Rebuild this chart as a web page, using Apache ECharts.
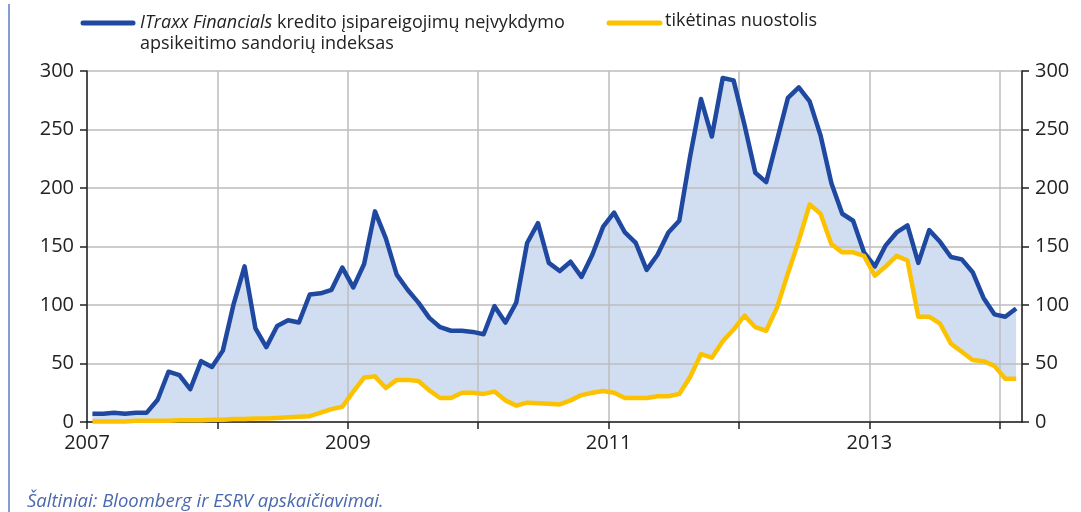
<!DOCTYPE html>
<html>
<head>
<meta charset="utf-8">
<script src="https://cdn.jsdelivr.net/npm/echarts@6/dist/echarts.min.js"></script>
<style>
  html, body { margin: 0; padding: 0; background: #fff; }
  #main_echarts { width: 1081px; height: 512px; }
</style>
</head>
<body>
<div id="main_echarts"></div>
<script>
// monthly observations, Jan 2007 .. Feb 2014 (plotted mid-month)
var startYear = 2007;
var itraxx = [7, 7, 8, 7, 8, 8, 19, 43, 40, 28, 52, 47, 61, 101, 133, 80, 64, 82, 87, 85,
  109, 110, 113, 132, 115, 135, 180, 157, 126, 113, 102, 89, 81, 78, 78, 77, 75, 99, 85, 102,
  153, 170, 136, 129, 137, 124, 143, 167, 179, 162, 153, 130, 143, 162, 172, 227, 276, 244, 294, 292,
  254, 213, 205, 241, 277, 286, 274, 245, 204, 178, 172, 145, 133, 151, 162, 168, 136, 164, 154, 141,
  139, 128, 106, 92, 90, 97];
var expectedLoss = [0.5, 0.5, 0.5, 0.5, 1, 1, 1, 1, 1.5, 1.5, 1.5, 2, 2, 2.5, 2.5, 3, 3, 3.5, 4, 4.5,
  5, 8, 11, 13, 26, 38, 39, 29, 36, 36, 35, 27, 20.5, 20.5, 25, 25, 24, 26, 18.5, 14,
  16.5, 16, 15.5, 15, 18.5, 23, 25, 26.5, 25, 20.5, 20.5, 20.5, 22, 22, 24, 38.5, 58, 55, 69, 79,
  91, 81, 78, 98, 127, 155, 186, 178, 152, 145, 145, 142, 125, 133, 142, 138, 90, 90, 84, 67,
  60, 53, 52, 48, 37, 37];
var yTicks = [0, 50, 100, 150, 200, 250, 300];
var yearLabels = [2007, 2009, 2011, 2013];

var blue = '#1f48a0';
var yellow = '#fcc200';
var band = '#d1ddf0';
var font = 'Open Sans';

function xOf(i) { return startYear + (i + 0.5) / 12; }
var blueData = itraxx.map(function (v, i) { return [xOf(i), v]; });
var yellowData = expectedLoss.map(function (v, i) { return [xOf(i), v]; });

var myChart = echarts.init(document.getElementById('main_echarts'));

var yAxisBase = {
    type: 'value',
    z: 3,
    min: yTicks[0],
    max: yTicks[yTicks.length - 1],
    interval: 50,
    axisLine: { show: true, lineStyle: { color: '#222', width: 1.5 } },
    axisTick: { show: true, length: 7, lineStyle: { color: '#222', width: 1.5 } },
    axisLabel: { color: '#222', fontFamily: font, fontSize: 20, margin: 13 }
};

myChart.setOption({
    animation: false,
    backgroundColor: '#fff',
    grid: { left: 87, right: 59, top: 71, bottom: 90 },
    xAxis: {
        type: 'value',
        z: 3,
        min: startYear,
        max: 2014.17,
        interval: 1,
        axisLine: { onZero: false, lineStyle: { color: '#222', width: 1.5 } },
        axisTick: { length: 7, lineStyle: { color: '#222', width: 1.5 } },
        axisLabel: {
            color: '#222', fontFamily: font, fontSize: 20, margin: 11,
            showMaxLabel: false,
            formatter: function (v) {
                return yearLabels.indexOf(Math.round(v * 1000) / 1000) >= 0 ? String(v) : '';
            }
        },
        splitLine: { show: true, lineStyle: { color: '#bdbdbd', width: 1.5 } }
    },
    yAxis: [
        Object.assign({}, yAxisBase, {
            position: 'left',
            splitLine: { show: true, lineStyle: { color: '#bdbdbd', width: 1.5 } }
        }),
        Object.assign({}, yAxisBase, {
            position: 'right',
            splitLine: { show: false }
        })
    ],
    series: [
        // shaded gap: fill under the index, then white fill under the expected loss
        {
            name: 'bandTop', type: 'line', data: blueData, symbol: 'none', z: 1,
            lineStyle: { width: 0 }, areaStyle: { color: band, opacity: 1 }, silent: true
        },
        {
            name: 'bandBottom', type: 'line', data: yellowData, symbol: 'none', z: 2,
            lineStyle: { width: 0 }, areaStyle: { color: '#fff', opacity: 1 }, silent: true
        },
        {
            name: 'iTraxx', type: 'line', data: blueData, symbol: 'none', clip: false,
            lineStyle: { color: blue, width: 4.5, join: 'round' }, z: 5
        },
        {
            name: 'loss', type: 'line', data: yellowData, symbol: 'none', clip: false,
            lineStyle: { color: yellow, width: 4.5, join: 'round' }, z: 6
        }
    ],
    graphic: [
        { type: 'line', shape: { x1: 9, y1: 4, x2: 9, y2: 512 }, style: { stroke: '#5b7cc4', lineWidth: 1.5 } },
        { type: 'line', shape: { x1: 83, y1: 23, x2: 133, y2: 23 }, style: { stroke: blue, lineWidth: 5, lineCap: 'round' } },
        {
            type: 'text', left: 140, top: 12,
            style: {
                text: '{i|ITraxx Financials} kredito įsipareigojimų neįvykdymo\napsikeitimo sandorių indeksas',
                fontFamily: font, fontSize: 18, fill: '#222', lineHeight: 21,
                rich: { i: { fontStyle: 'italic', fontFamily: font, fontSize: 18, fill: '#222', lineHeight: 21 } }
            }
        },
        { type: 'line', shape: { x1: 609, y1: 23, x2: 660, y2: 23 }, style: { stroke: yellow, lineWidth: 5, lineCap: 'round' } },
        {
            type: 'text', left: 665, top: 12,
            style: { text: 'tikėtinas nuostolis', fontFamily: font, fontSize: 18, fill: '#222' }
        },
        {
            type: 'text', left: 27, top: 492,
            style: {
                text: 'Šaltiniai: Bloomberg ir ESRV apskaičiavimai.',
                fontFamily: font, fontSize: 18.5, fontStyle: 'italic', fill: '#4a68ad'
            }
        }
    ]
});
</script>
</body>
</html>
